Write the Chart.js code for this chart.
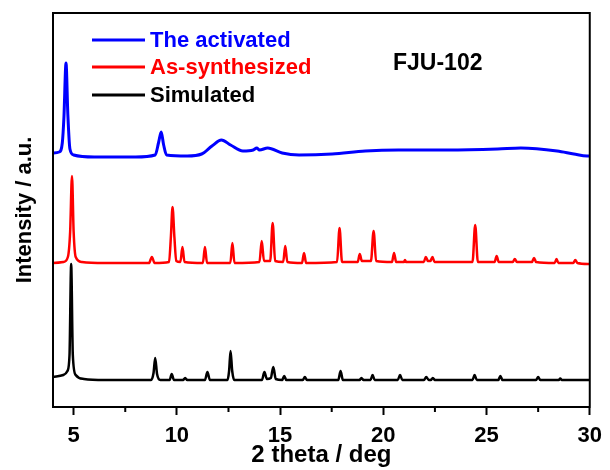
<!DOCTYPE html>
<html>
<head>
<meta charset="utf-8">
<script src="https://cdn.jsdelivr.net/npm/chart.js@4.4.1/dist/chart.umd.min.js"></script>
<style>
  html, body { margin: 0; padding: 0; background: #fff; }
  #wrap { width: 610px; height: 470px; }
</style>
</head>
<body>
<div id="wrap"><canvas id="xrd"></canvas></div>
<script>
// pattern vertices: [2 theta, intensity (a.u.)]
const activated = [
  [4.0, 254], [4.3, 255], [4.45, 264], [4.53, 290], [4.63, 344], [4.72, 292], [4.82, 258], [5.0, 252],
  [6.0, 250], [8.0, 250], [8.95, 252], [9.12, 265], [9.24, 275], [9.36, 262], [9.5, 252], [10.5, 251],
  [11.2, 253], [11.7, 261], [12.16, 267], [12.6, 262], [13.2, 256], [13.7, 257], [13.87, 259], [14.0, 257],
  [14.4, 259], [15.1, 254], [15.92, 252], [17.52, 253], [19.13, 256], [20.73, 257], [23.13, 257],
  [25.54, 258], [26.66, 259], [28.42, 256], [29.23, 253], [29.87, 251], [30, 251]
];

const asSynthesized = [
  [4.0, 144], [4.5, 145], [4.72, 150], [4.83, 175], [4.92, 231], [5.0, 175], [5.1, 150], [5.4, 145],
  [6.5, 144], [8.65, 144], [8.79, 150], [8.92, 144], [9.62, 145], [9.71, 170], [9.79, 200], [9.88, 170],
  [9.97, 146], [10.17, 145], [10.27, 160], [10.37, 145], [11.26, 144], [11.36, 160], [11.46, 144],
  [12.59, 144], [12.69, 164], [12.79, 144], [14.0, 145], [14.11, 166], [14.22, 146], [14.52, 146],
  [14.64, 184], [14.76, 146], [15.15, 145], [15.25, 161],
  [15.35, 145], [16.06, 144], [16.16, 154], [16.26, 144], [17.76, 145], [17.88, 179], [18.0, 145],
  [18.76, 145], [18.86, 153], [18.96, 146], [19.4, 146], [19.53, 176], [19.65, 146], [20.42, 145],
  [20.52, 154], [20.62, 145], [21.0, 145], [21.05, 147], [21.1, 145], [21.96, 145], [22.06, 150],
  [22.16, 146], [22.28, 146], [22.38, 150], [22.48, 145], [24.32, 145], [24.45, 182], [24.58, 145],
  [25.39, 145], [25.49, 151], [25.59, 145], [26.27, 145], [26.37, 148], [26.47, 145], [27.2, 145],
  [27.3, 149], [27.4, 145], [28.3, 144], [28.39, 148], [28.48, 144], [29.2, 144], [29.3, 147],
  [29.4, 144], [30, 143]
];

const simulated = [
  [4.0, 30], [4.5, 32], [4.7, 36], [4.8, 52], [4.88, 143], [4.96, 52], [5.1, 32], [5.5, 28],
  [6.5, 27], [8.75, 27], [8.87, 34], [8.95, 49], [9.04, 33], [9.2, 27], [9.65, 27], [9.75, 33],
  [9.86, 27], [10.3, 27], [10.4, 29], [10.5, 27], [11.36, 27], [11.48, 35], [11.6, 27], [12.45, 27],
  [12.53, 36], [12.6, 56], [12.68, 36], [12.78, 27], [14.12, 27], [14.24, 35], [14.36, 28], [14.55, 29],
  [14.67, 40], [14.79, 28], [15.1, 27], [15.2, 31], [15.3, 27], [16.1, 27], [16.2, 30], [16.3, 27],
  [17.82, 27], [17.93, 36], [18.04, 27], [18.85, 27], [18.94, 29], [19.04, 27], [19.38, 27],
  [19.48, 32], [19.58, 27], [20.7, 27], [20.81, 32], [20.92, 27], [21.97, 27], [22.08, 30], [22.2, 27],
  [22.3, 27], [22.4, 29], [22.5, 27], [24.32, 27], [24.42, 32], [24.53, 27], [25.57, 27], [25.67, 31],
  [25.77, 27], [27.4, 27], [27.5, 30], [27.6, 27], [28.5, 27], [28.57, 28.5], [28.65, 27], [30, 27]
];

const seriesNames = ['The activated', 'As-synthesized', 'Simulated'];
const seriesColors = ['#0000ff', '#ff0000', '#000000'];
const majorTicks = [5, 10, 15, 20, 25, 30];
const minorTicks = [7.5, 12.5, 17.5, 22.5, 27.5];
const sampleName = 'FJU-102';

const FONT = '"Liberation Sans", Arial, sans-serif';

function toPoints(arr) {
  return arr.map(p => ({ x: p[0], y: p[1] }));
}

// frame, minor ticks, inset legend and sample label
const decorPlugin = {
  id: 'decor',
  afterDraw(chart) {
    const ctx = chart.ctx;
    const a = chart.chartArea;
    const xs = chart.scales.x;
    ctx.save();
    ctx.strokeStyle = '#000';
    ctx.lineWidth = 2;
    ctx.strokeRect(a.left, a.top, a.right - a.left, a.bottom - a.top);

    // minor ticks
    ctx.beginPath();
    minorTicks.forEach(v => {
      const px = xs.getPixelForValue(v);
      ctx.moveTo(px, a.bottom);
      ctx.lineTo(px, a.bottom + 5);
    });
    ctx.stroke();

    // legend
    ctx.font = 'bold 22px ' + FONT;
    ctx.textBaseline = 'middle';
    ctx.lineWidth = 3;
    const rows = [40, 67, 95];
    chart.data.datasets.forEach((ds, i) => {
      const y = rows[i];
      ctx.strokeStyle = ds.borderColor;
      ctx.beginPath();
      ctx.moveTo(a.left + 39, y);
      ctx.lineTo(a.left + 92, y);
      ctx.stroke();
      ctx.fillStyle = ds.borderColor;
      ctx.fillText(ds.label, a.left + 97, y + 1);
    });

    ctx.fillStyle = '#000';
    ctx.font = 'bold 23px ' + FONT;
    ctx.fillText(sampleName, 393, 64);
    ctx.restore();
  }
};

const seriesData = [activated, asSynthesized, simulated];

new Chart(document.getElementById('xrd'), {
  type: 'line',
  data: {
    datasets: seriesData.map((d, i) => ({
      label: seriesNames[i],
      data: toPoints(d),
      borderColor: seriesColors[i],
      borderWidth: i === 0 ? 3 : 2.5,
      pointRadius: 0,
      fill: false,
      cubicInterpolationMode: 'monotone'
    }))
  },
  options: {
    responsive: true,
    maintainAspectRatio: false,
    animation: false,
    events: [],
    layout: { padding: { top: 13, right: 18, left: 0, bottom: 0 } },
    plugins: {
      legend: { display: false },
      tooltip: { enabled: false }
    },
    scales: {
      x: {
        type: 'linear',
        min: 4,
        max: 30,
        afterBuildTicks: scale => {
          scale.ticks = majorTicks.map(v => ({ value: v }));
        },
        afterFit: scale => { scale.height = 63; },
        grid: {
          display: true,
          drawOnChartArea: false,
          drawTicks: true,
          tickLength: 8,
          tickWidth: 2,
          tickColor: '#000'
        },
        border: { display: true, color: '#000', width: 2 },
        ticks: {
          color: '#000',
          padding: 8,
          maxRotation: 0,
          font: { family: FONT, size: 22, weight: 'bold' }
        },
        title: {
          display: true,
          text: '2 theta / deg',
          color: '#000',
          padding: { top: 0, bottom: 0 },
          font: { family: FONT, size: 24, weight: 'bold' }
        }
      },
      y: {
        min: 0,
        max: 394,
        afterFit: scale => { scale.width = 53; },
        grid: { display: false },
        border: { display: true, color: '#000', width: 2 },
        ticks: { display: false },
        title: {
          display: true,
          text: 'Intensity / a.u.',
          color: '#000',
          padding: { top: 12, bottom: 0 },
          font: { family: FONT, size: 22, weight: 'bold' }
        }
      }
    }
  },
  plugins: [decorPlugin]
});
</script>
</body>
</html>
